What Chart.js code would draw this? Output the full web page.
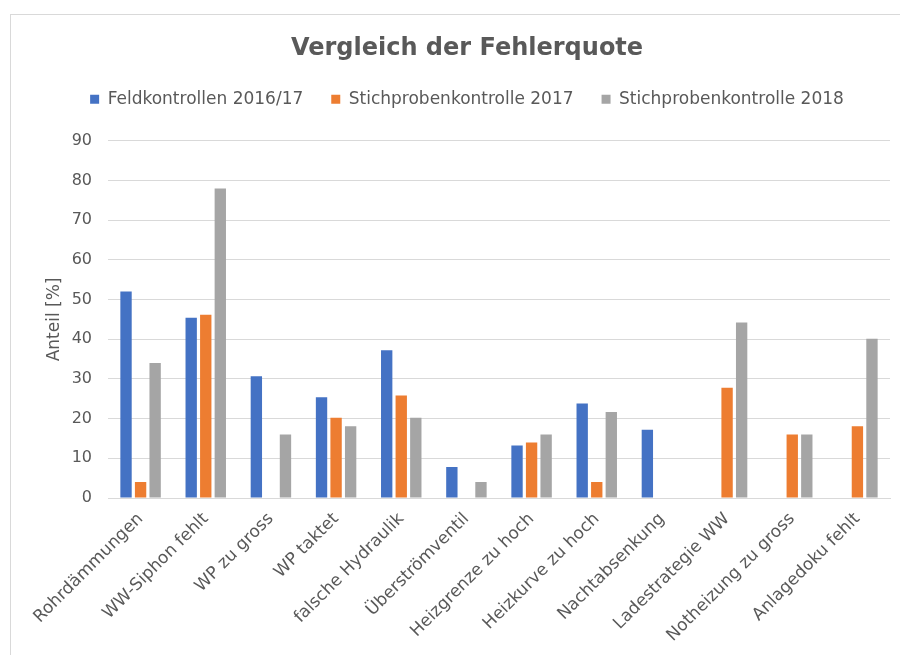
<!DOCTYPE html>
<html>
<head>
<meta charset="utf-8">
<script src="https://cdn.jsdelivr.net/npm/chart.js@4.4.1/dist/chart.umd.min.js"></script>
<style>
  html, body { margin: 0; padding: 0; background: #ffffff; }
  #wrap { position: relative; width: 900px; height: 655px; }
</style>
</head>
<body>
<div id="wrap"><canvas id="c" width="900" height="655"></canvas></div>
<script>
const categories = ["Rohrdämmungen", "WW-Siphon fehlt", "WP zu gross", "WP taktet", "falsche Hydraulik", "Überströmventil", "Heizgrenze zu hoch", "Heizkurve zu hoch", "Nachtabsenkung", "Ladestrategie WW", "Notheizung zu gross", "Anlagedoku fehlt"];
const feldkontrollen2016 = [52, 45.4, 30.7, 25.4, 37.2, 7.8, 13.2, 23.8, 17.2, null, null, null];
const stichprobe2017 = [4, 46.2, null, 20.2, 25.8, null, 14, 4, null, 27.8, 16, 18.1];
const stichprobe2018 = [34, 78, 16, 18.1, 20.2, 4, 16, 21.7, null, 44.2, 16, 40.1];
const seriesNames = ["Feldkontrollen 2016/17", "Stichprobenkontrolle 2017", "Stichprobenkontrolle 2018"];
const yTicks = [0, 10, 20, 30, 40, 50, 60, 70, 80, 90];

const FONT = "'DejaVu Sans', 'Liberation Sans', Arial, sans-serif";
const TXT = '#595959';

const frame = {
  id: 'frame',
  beforeDraw(chart) {
    const ctx = chart.ctx;
    ctx.save();
    ctx.fillStyle = '#ffffff';
    ctx.fillRect(0, 0, chart.width, chart.height);
    ctx.strokeStyle = '#d9d9d9';
    ctx.lineWidth = 1;
    ctx.strokeRect(10.5, 14.5, 905, 650);
    ctx.restore();
  }
};

new Chart(document.getElementById('c'), {
  type: 'bar',
  data: {
    labels: categories,
    datasets: [
      { label: seriesNames[0], data: feldkontrollen2016, backgroundColor: '#4472C4' },
      { label: seriesNames[1], data: stichprobe2017, backgroundColor: '#ED7D31' },
      { label: seriesNames[2], data: stichprobe2018, backgroundColor: '#A5A5A5' }
    ]
  },
  options: {
    responsive: false,
    animation: false,
    devicePixelRatio: 1,
    layout: { padding: { left: 44, right: 10, top: 34, bottom: 0 } },
    datasets: { bar: { categoryPercentage: 0.67, barPercentage: 0.78 } },
    plugins: {
      title: {
        display: true,
        text: 'Vergleich der Fehlerquote',
        color: TXT,
        font: { family: FONT, size: 24, weight: 'bold' },
        padding: { top: 0, bottom: 0 }
      },
      subtitle: {
        display: true,
        text: ' ',
        weight: 500,
        font: { size: 10, lineHeight: 1 },
        padding: { top: 0, bottom: 13 }
      },
      legend: {
        position: 'top',
        labels: {
          color: TXT,
          font: { family: FONT, size: 17 },
          boxWidth: 9,
          boxHeight: 9,
          padding: 28
        }
      },
      tooltip: { enabled: false }
    },
    scales: {
      x: {
        grid: { display: false },
        border: { display: true, color: '#d9d9d9' },
        ticks: {
          color: TXT,
          font: { family: FONT, size: 17 },
          minRotation: 45,
          maxRotation: 45,
          autoSkip: false
        },
        afterFit(scale) { scale.height = 655 - 498; }
      },
      y: {
        min: 0,
        max: 90,
        afterBuildTicks(scale) { scale.ticks = yTicks.map(v => ({ value: v })); },
        grid: { color: '#d9d9d9', drawTicks: false },
        border: { display: false },
        ticks: { color: TXT, font: { family: FONT, size: 16 }, padding: 16 },
        title: {
          display: true,
          text: 'Anteil [%]',
          color: TXT,
          font: { family: FONT, size: 17 },
          padding: { top: 0, bottom: 0 }
        },
        afterFit(scale) { scale.width = 108 - 44; }
      }
    }
  },
  plugins: [frame]
});
</script>
</body>
</html>
